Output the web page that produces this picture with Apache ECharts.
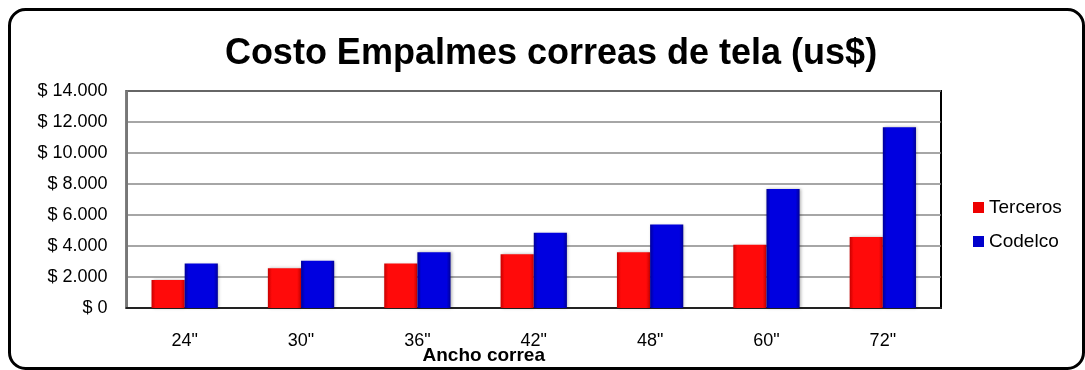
<!DOCTYPE html>
<html>
<head>
<meta charset="utf-8">
<script src="https://cdn.jsdelivr.net/npm/echarts@6/dist/echarts.min.js"></script>
<style>
html,body{margin:0;padding:0;background:#fff;}
#chart{width:1085px;height:370px;}
</style>
</head>
<body>
<div id="chart"></div>
<script>
var categories = ['24"', '30"', '36"', '42"', '48"', '60"', '72"'];
var terceros = [1800, 2570, 2870, 3460, 3590, 4080, 4580];
var codelco = [2870, 3050, 3590, 4860, 5380, 7670, 11660];
var yTicks = [0, 2000, 4000, 6000, 8000, 10000, 12000, 14000];

var FONT = '"Liberation Sans", Arial, sans-serif';
function fmt(v){ return v === 0 ? '$ 0' : '$ ' + (v/1000) + '.000'; }
function grad(edge, mid){
  return new echarts.graphic.LinearGradient(0,0,1,0,[
    {offset:0,color:edge},{offset:0.12,color:mid},{offset:0.88,color:mid},{offset:1,color:edge}
  ]);
}

var chart = echarts.init(document.getElementById('chart'));
chart.setOption({
  animation:false,
  backgroundColor:'#fff',
  title:{
    text:'Costo Empalmes correas de tela (us$)',
    left:546, top:31, textAlign:'center',
    textStyle:{fontFamily:FONT,fontSize:36,fontWeight:'bold',color:'#000'}
  },
  legend:{
    orient:'vertical', left:968, top:193,
    itemWidth:11, itemHeight:11, itemGap:15,
    icon:'rect',
    textStyle:{fontFamily:FONT,fontSize:19,color:'#000'},
    data:[{name:'Terceros',itemStyle:{color:'#ee0000'}},{name:'Codelco',itemStyle:{color:'#0000cc'}}]
  },
  grid:{left:126.5, right:144, top:91, bottom:62, show:true, borderColor:'#000', borderWidth:2,
        outerBoundsMode:'none', containLabel:false},
  xAxis:{
    type:'category', data:categories,
    axisLine:{show:true,lineStyle:{color:'#222',width:2}},
    axisTick:{show:false},
    axisLabel:{fontFamily:FONT,fontSize:18,color:'#000',margin:24},
    name:'Ancho correa', nameLocation:'middle', nameGap:38, nameMoveOverlap:false,
    nameTextStyle:{fontFamily:FONT,fontSize:19,fontWeight:'bold',color:'#000',padding:[0,100,0,0]}
  },
  yAxis:{
    type:'value', min:0, max:14000, interval:2000,
    axisLine:{show:true,lineStyle:{color:'#777',width:2}},
    axisTick:{show:false},
    splitLine:{show:true,lineStyle:{color:'#888',width:1.5}},
    axisLabel:{fontFamily:FONT,fontSize:18,color:'#000',margin:19,formatter:fmt}
  },
  series:[
    {name:'Terceros',type:'bar',data:terceros,barGap:'0%',barCategoryGap:'43%',
     itemStyle:{color:grad('#c80000','#ff0a0a'),shadowColor:'rgba(0,0,0,0.3)',shadowBlur:3,shadowOffsetX:1}},
    {name:'Codelco',type:'bar',data:codelco,barGap:'0%',barCategoryGap:'43%',
     itemStyle:{color:grad('#000098','#0000e0'),shadowColor:'rgba(0,0,0,0.3)',shadowBlur:3,shadowOffsetX:1}}
  ],
  graphic:[
    {type:'rect',left:7,top:7,shape:{x:0,y:0,width:1074,height:359,r:16},
     style:{fill:'none',stroke:'#000',lineWidth:3},silent:true,z:100}
  ]
});
</script>
</body>
</html>
